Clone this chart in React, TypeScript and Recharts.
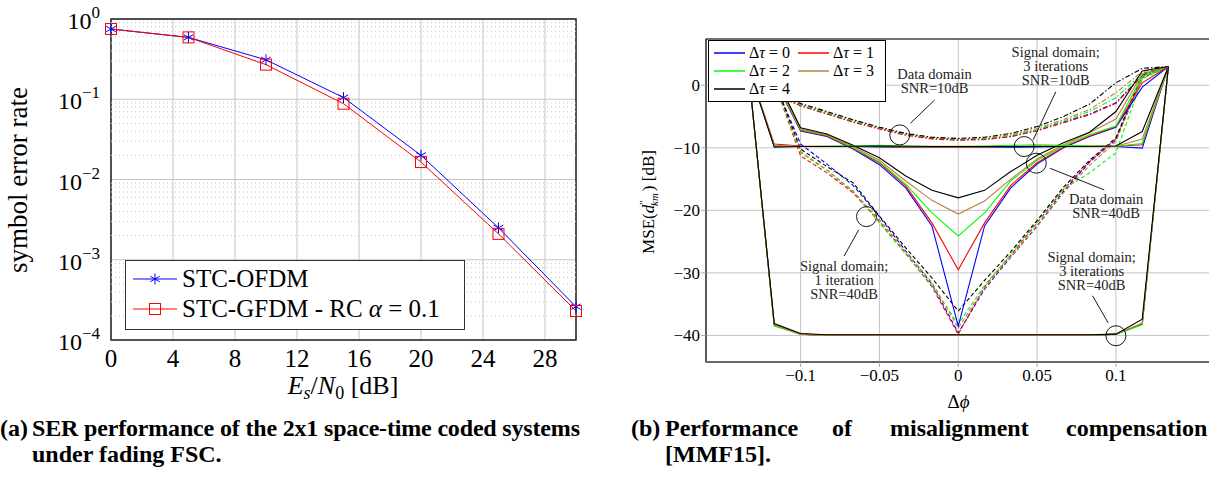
import React from 'react';
import {
  LineChart, Line, XAxis, YAxis, CartesianGrid, ReferenceLine, ReferenceDot, ReferenceArea, Legend,
} from 'recharts';

const SERIF = '"Liberation Serif", "DejaVu Serif", serif';

// ---- (a) SER vs Es/N0 ----
const snrDb = [0, 5, 10, 15, 20, 25, 30];
const serOfdm = [0.75, 0.59, 0.31, 0.105, 0.02, 0.0025, 0.00026];
const serGfdm = [0.75, 0.59, 0.27, 0.088, 0.0165, 0.0021, 0.00023];
const snrTicks = [0, 4, 8, 12, 16, 20, 24, 28];
const serTicks = [1e-4, 1e-3, 1e-2, 1e-1, 1];
const serExponents = ['−4', '−3', '−2', '−1', '0'];

// ---- (b) MSE vs phase misalignment ----
const dphi = [-0.1333, -0.1167, -0.1, -0.0833, -0.0667, -0.05, -0.0333, -0.0167, 0,
  0.0167, 0.0333, 0.05, 0.0667, 0.0833, 0.1, 0.1167, 0.1333];
const dphiTicks = [-0.1, -0.05, 0, 0.05, 0.1];
const mseTicks = [-40, -30, -20, -10, 0];
const tauLabels = ['0', '1', '2', '3', '4'];
const tauColors = ['#0000ff', '#ff0000', '#00ff00', '#bf8040', '#000000'];

// data domain, SNR=10dB (dash-dot) — one row per delta tau
const dataDomain10 = [
  [3, -1.5, -3.2, -4.5, -5.8, -6.9, -7.9, -8.5, -8.7, -8.6, -8.2, -7.2, -5.9, -4.6, -2.8, 1.6, 3],
  [3, -1.5, -3.3, -4.6, -5.9, -7.0, -8.0, -8.6, -8.8, -8.7, -8.2, -7.3, -6.0, -4.7, -2.9, 1.5, 3],
  [3, -1.4, -3.1, -4.4, -5.7, -6.8, -7.8, -8.4, -8.6, -8.5, -8.0, -7.1, -5.7, -4.2, -2.0, 1.9, 3],
  [3, -1.3, -3.0, -4.3, -5.6, -6.8, -7.8, -8.4, -8.6, -8.4, -7.9, -6.9, -5.5, -3.9, -1.2, 2.2, 3],
  [3, -1.2, -2.9, -4.2, -5.5, -6.7, -7.7, -8.3, -8.5, -8.3, -7.7, -6.6, -5.0, -3.0, 0.4, 2.7, 3],
];
// signal domain, 1 iteration, SNR=40dB (dashed)
const signal1It40 = [
  [3, 0.5, -9.4, -12.6, -16.0, -21.0, -26.5, -31.8, -39.6, -32.6, -27.5, -22.5, -17.0, -12.3, -8.7, 1.2, 3],
  [3, 0.5, -11.3, -14.0, -17.2, -21.8, -26.9, -32.2, -39.8, -32.2, -27.2, -22.0, -16.7, -12.2, -8.6, 1.4, 3],
  [3, 0.5, -10.8, -13.6, -16.9, -22.0, -27.0, -32.0, -38.2, -32.0, -27.0, -21.8, -16.6, -14.0, -10.8, 1.0, 3],
  [3, 0.5, -10.6, -13.5, -17.0, -21.5, -26.7, -31.5, -38.8, -32.4, -27.4, -22.6, -17.2, -12.8, -9.0, 1.3, 3],
  [3, 0.8, -10.2, -13.0, -15.6, -20.9, -26.0, -30.8, -36.1, -31.2, -26.6, -21.6, -16.3, -12.0, -8.4, 1.8, 3],
];
// data domain, SNR=40dB (solid V)
const dataDomain40 = [
  [3, 1.0, -7.3, -8.2, -10.2, -12.7, -16.4, -22.5, -38.5, -22.5, -16.4, -12.6, -10.0, -8.2, -6.7, -0.3, 3],
  [3, 1.0, -7.2, -8.1, -10.1, -12.4, -16.1, -22.0, -29.5, -22.0, -16.0, -12.4, -9.9, -8.1, -6.6, 0.4, 3],
  [3, 1.2, -7.1, -8.0, -10.0, -12.25, -15.8, -20.4, -24.1, -20.4, -15.3, -12.0, -9.7, -7.9, -6.5, 1.4, 3],
  [3, 1.5, -7.0, -7.9, -9.8, -12.0, -15.3, -18.4, -20.6, -18.5, -15.0, -11.8, -9.5, -7.6, -5.4, 1.8, 3],
  [3, 1.8, -6.8, -7.8, -9.6, -11.6, -14.5, -16.8, -18.0, -16.8, -13.8, -11.2, -9.2, -7.5, -4.2, 2.3, 3],
];
// signal domain, 3 iterations, SNR=10dB (solid, flat)
const signal3It10 = [
  [3, -9.8, -9.8, -9.8, -9.8, -9.85, -9.9, -9.9, -9.9, -9.9, -9.9, -9.85, -9.8, -9.8, -9.8, -10.05, 3],
  [3, -9.4, -9.7, -9.75, -9.8, -9.8, -9.85, -9.85, -9.9, -9.85, -9.75, -9.7, -9.7, -9.75, -9.75, -9.5, 3],
  [3, -9.7, -9.8, -9.75, -9.7, -9.6, -9.7, -9.75, -9.75, -9.7, -9.6, -9.5, -9.6, -9.7, -9.75, -9.3, 3],
  [3, -9.6, -9.75, -9.8, -9.8, -9.8, -9.85, -9.85, -9.85, -9.85, -9.8, -9.8, -9.8, -9.8, -9.75, -8.6, 3],
  [3, -9.9, -9.8, -9.8, -9.75, -9.7, -9.75, -9.8, -9.8, -9.8, -9.8, -9.8, -9.8, -9.8, -9.7, -7.4, 3],
];
// signal domain, 3 iterations, SNR=40dB (solid, flat)
const signal3It40 = [
  [3, -38.3, -39.8, -40, -40, -40, -40, -40, -40, -40, -40, -40, -40, -40, -39.8, -38.2, 3],
  [3, -38.3, -39.8, -40, -40, -40, -40, -40, -40, -40, -40, -40, -40, -40, -39.8, -38.2, 3],
  [3, -38.5, -39.8, -40, -40, -40, -40, -40, -40, -40, -40, -40, -40, -40, -39.8, -38.3, 3],
  [3, -38.3, -39.8, -40, -40, -40, -40, -40, -40, -40, -40, -40, -40, -40, -39.8, -38.0, 3],
  [3, -38.1, -39.7, -39.9, -39.9, -39.9, -39.9, -39.9, -39.9, -39.9, -39.9, -39.9, -39.9, -39.9, -39.8, -37.4, 3],
];

const groups = [
  { id: 'dd10', series: dataDomain10, dash: '5 2 1.5 2' },
  { id: 'sd1', series: signal1It40, dash: '4 2.5' },
  { id: 'dd40', series: dataDomain40, dash: undefined },
  { id: 'sd3a', series: signal3It10, dash: undefined },
  { id: 'sd3b', series: signal3It40, dash: undefined },
];

const leftRows = snrDb.map((x, i) => ({ x, ofdm: serOfdm[i], gfdm: serGfdm[i] }));

const rightRows = dphi.map((x, i) => {
  const row: any = { x };
  groups.forEach(g => g.series.forEach((s, c) => { row[`${g.id}_${c}`] = s[i]; }));
  return row;
});

// minor log grid positions (2..9 x 10^k)
const minorLog: number[] = [];
[1e-4, 1e-3, 1e-2, 1e-1].forEach(d => [2, 3, 4, 5, 6, 7, 8, 9].forEach(m => minorLog.push(m * d)));

const notes = [
  { x: -0.015, y: 0.93, lines: ['Data domain', 'SNR=10dB'] },
  { x: 0.0618, y: 4.52, lines: ['Signal domain;', '3 iterations', 'SNR=10dB'] },
  { x: 0.0938, y: -19.04, lines: ['Data domain', 'SNR=40dB'] },
  { x: -0.0724, y: -29.66, lines: ['Signal domain;', '1 iteration', 'SNR=40dB'] },
  { x: 0.0846, y: -28.23, lines: ['Signal domain;', '3 iterations', 'SNR=40dB'] },
];
const circles = [
  { x: -0.0371, y: -7.94 }, { x: 0.0418, y: -9.8 }, { x: 0.0495, y: -12.46 },
  { x: -0.0582, y: -21 }, { x: 0.1, y: -40.05 },
];
const pointers = [
  [{ x: -0.0303, y: -6.07 }, { x: -0.0149, y: -2.33 }],
  [{ x: 0.0475, y: -8.74 }, { x: 0.0619, y: -1.02 }],
  [{ x: 0.0581, y: -13.26 }, { x: 0.0926, y: -16.73 }],
  [{ x: -0.0631, y: -23.1 }, { x: -0.0724, y: -27.3 }],
  [{ x: 0.0852, y: -33.66 }, { x: 0.0951, y: -38.0 }],
];

const Asterisk = (props: any) => {
  const { cx, cy } = props;
  if (cx == null || cy == null) return null;
  const r = 5.5;
  const dx = r * Math.cos(Math.PI / 6);
  const dy = r * Math.sin(Math.PI / 6);
  return (
    <g stroke="#0000ff" strokeWidth={1}>
      <line x1={cx} y1={cy - r} x2={cx} y2={cy + r} />
      <line x1={cx - dx} y1={cy - dy} x2={cx + dx} y2={cy + dy} />
      <line x1={cx - dx} y1={cy + dy} x2={cx + dx} y2={cy - dy} />
    </g>
  );
};

const Square = (props: any) => {
  const { cx, cy } = props;
  if (cx == null || cy == null) return null;
  return <rect x={cx - 5.5} y={cy - 5.5} width={11} height={11} fill="none" stroke="#ff0000" strokeWidth={1} />;
};

const PowTick = (props: any) => {
  const { x, y, payload } = props;
  const i = serTicks.indexOf(payload.value);
  return (
    <text x={x} y={y + 10} textAnchor="end" fontFamily={SERIF} fontSize={24} fill="#000">
      10<tspan dy={-11} fontSize={17}>{serExponents[i]}</tspan>
    </text>
  );
};

const LeftLegend = () => (
  <div style={{ border: '1.5px solid #333', background: '#fff', width: 340, height: 70, boxSizing: 'border-box' }}>
    <svg width={338} height={67} style={{ display: 'block' }}>
      <line x1={7} y1={18} x2={51} y2={18} stroke="#0000ff" strokeWidth={1} />
      <Asterisk cx={29} cy={18} />
      <text x={56} y={26} fontFamily={SERIF} fontSize={25}>STC-OFDM</text>
      <line x1={7} y1={48} x2={51} y2={48} stroke="#ff0000" strokeWidth={1} />
      <Square cx={29} cy={48} />
      <text x={56} y={56} fontFamily={SERIF} fontSize={25}>
        STC-GFDM - RC <tspan fontStyle="italic">α</tspan> = 0.1
      </text>
    </svg>
  </div>
);

const RightLegend = () => (
  <div style={{ border: '1px solid #000', background: '#fff', width: 178, height: 62, boxSizing: 'border-box' }}>
    <svg width={176} height={60} style={{ display: 'block' }}>
      {tauLabels.map((t, i) => {
        const col = i % 2;
        const row = Math.floor(i / 2);
        const x0 = col === 0 ? 5 : 89;
        const y0 = 12 + row * 18;
        return (
          <g key={t}>
            <line x1={x0} y1={y0} x2={x0 + 31} y2={y0} stroke={tauColors[i]} strokeWidth={1.5} />
            <text x={x0 + 35} y={y0 + 5} fontFamily={SERIF} fontSize={16}>
              Δ<tspan fontStyle="italic">τ</tspan> = {t}
            </text>
          </g>
        );
      })}
    </svg>
  </div>
);

const NoteText = (lines: string[]) => (props: any) => {
  const { cx, cy } = props;
  return (
    <text x={cx} y={cy} textAnchor="middle" fontFamily={SERIF} fontSize={14.5} fill="#222">
      {lines.map((l, i) => (
        <tspan key={i} x={cx} dy={i === 0 ? 0 : 14}>{l}</tspan>
      ))}
    </text>
  );
};

const fmtPhi = (v: number) => (v < 0 ? `−${Math.abs(v)}` : `${v}`);
const fmtMse = (v: number) => (v < 0 ? `−${Math.abs(v)}` : `${v}`);

export default function App() {
  return (
    <div style={{ position: 'relative', width: 1209, height: 488, overflow: 'hidden', background: '#fff' }}>
      <style>{'body{margin:0}'}</style>

      <div style={{ position: 'absolute', left: 0, top: 0 }}>
        <LineChart width={600} height={420} data={leftRows} margin={{ top: 19, right: 24, bottom: 40, left: 11 }}>
          <CartesianGrid stroke="#c4c4c4" strokeWidth={1} />
          {minorLog.map(v => (
            <ReferenceLine key={v} y={v} stroke="#c8c8c8" strokeDasharray="1 3" strokeWidth={1} />
          ))}
          <XAxis dataKey="x" type="number" domain={[0, 30]} ticks={snrTicks} height={40}
            axisLine={false} tickLine={false} tickSize={7} tickMargin={2}
            tick={{ fontFamily: SERIF, fontSize: 25, fill: '#000' }}
            label={{
              content: () => (
                <text x={343} y={394} textAnchor="middle" fontFamily={SERIF} fontSize={26} fill="#000">
                  <tspan fontStyle="italic">E</tspan><tspan fontSize={18} fontStyle="italic" dy={5}>s</tspan>
                  <tspan dy={-5}>/</tspan><tspan fontStyle="italic">N</tspan><tspan fontSize={18} dy={5}>0</tspan>
                  <tspan dy={-5}> [dB]</tspan>
                </text>
              ),
            }} />
          <YAxis type="number" scale="log" domain={[1e-4, 1]} ticks={serTicks} allowDataOverflow width={100}
            axisLine={false} tickLine={false} tickSize={11} tickMargin={0} tick={<PowTick />}
            label={{
              content: () => (
                <text x={27} y={180} transform="rotate(-90 27 180)" textAnchor="middle" fontFamily={SERIF} fontSize={27} fill="#000">
                  symbol error rate
                </text>
              ),
            }} />
          <ReferenceArea x1={0} x2={30} y1={1e-4} y2={1} fill="none" stroke="#222" strokeWidth={1.5} ifOverflow="visible" />
          <Line dataKey="ofdm" stroke="#0000ff" strokeWidth={1} dot={<Asterisk />} isAnimationActive={false} />
          <Line dataKey="gfdm" stroke="#ff0000" strokeWidth={1} dot={<Square />} isAnimationActive={false} />
          <Legend layout="horizontal" verticalAlign="middle" align="center"
            wrapperStyle={{ left: 125, top: 260, width: 340, height: 70 }} content={() => <LeftLegend />} />
        </LineChart>
      </div>

      <div style={{ position: 'absolute', left: 600, top: 0 }}>
        <LineChart width={612} height={420} data={rightRows} margin={{ top: 39, right: 1.5, bottom: 28, left: 6 }}>
          <CartesianGrid stroke="#c4c4c4" strokeWidth={1} />
          <XAxis dataKey="x" type="number" domain={[-0.16, 0.16]} ticks={dphiTicks} height={30}
            axisLine={false} tickLine={{ stroke: '#aaa' }} tickSize={5} tickMargin={2} tickFormatter={fmtPhi}
            tick={{ fontFamily: SERIF, fontSize: 17, fill: '#000' }}
            label={{
              content: () => (
                <text x={358.5} y={408} textAnchor="middle" fontFamily={SERIF} fontSize={19} fill="#000">
                  Δ<tspan fontStyle="italic">ϕ</tspan>
                </text>
              ),
            }} />
          <YAxis type="number" domain={[-44.25, 7.4]} ticks={mseTicks} allowDataOverflow width={100}
            axisLine={false} tickLine={{ stroke: '#aaa' }} tickSize={5} tickMargin={1} tickFormatter={fmtMse}
            tick={{ fontFamily: SERIF, fontSize: 17, fill: '#000' }}
            label={{
              content: () => (
                <text x={54} y={202} transform="rotate(-90 54 202)" textAnchor="middle" fontFamily={SERIF} fontSize={17} fill="#000">
                  <tspan>MSE(</tspan><tspan fontStyle="italic">d</tspan>
                  <tspan fontSize={11} dy={-7}>′′</tspan>
                  <tspan fontSize={11} fontStyle="italic" dy={11} dx={-6}>km</tspan>
                  <tspan dy={-4} dx={2}>) [dB]</tspan>
                </text>
              ),
            }} />
          {groups.map(g => g.series.map((_, c) => (
            <Line key={`${g.id}_${c}`} dataKey={`${g.id}_${c}`} stroke={tauColors[c]} strokeWidth={1.1}
              strokeDasharray={g.dash} dot={false} isAnimationActive={false} />
          )))}
          <ReferenceArea x1={-0.16} x2={0.16} y1={-44.25} y2={7.4} fill="none" stroke="#000" strokeWidth={1.2} ifOverflow="visible" />
          <ReferenceLine y={-44.25} stroke="#666" strokeWidth={2} ifOverflow="visible" />
          {circles.map((p, i) => (
            <ReferenceDot key={`c${i}`} x={p.x} y={p.y} r={10} fill="none" stroke="#000" strokeWidth={0.9} />
          ))}
          {pointers.map((s, i) => (
            <ReferenceLine key={`p${i}`} segment={s} stroke="#000" strokeWidth={0.9} />
          ))}
          {notes.map((n, i) => (
            <ReferenceDot key={`n${i}`} x={n.x} y={n.y} r={0} shape={NoteText(n.lines)} />
          ))}
          <Legend layout="horizontal" verticalAlign="middle" align="center"
            wrapperStyle={{ left: 108, top: 40, width: 178, height: 62 }} content={() => <RightLegend />} />
        </LineChart>
      </div>

      <svg width={1209} height={488} style={{ position: 'absolute', left: 0, top: 0, pointerEvents: 'none' }}>
        <g fontFamily={SERIF} fontWeight="bold" fontSize={24} fill="#000">
          <text x={0} y={436}>(a)</text>
          <text x={32} y={436} textLength={548} lengthAdjust="spacing">SER performance of the 2x1 space-time coded systems</text>
          <text x={32} y={462}>under fading FSC.</text>
          <text x={631} y={436}>(b)</text>
          <text x={665} y={436}>Performance</text>
          <text x={832} y={436}>of</text>
          <text x={890} y={436}>misalignment</text>
          <text x={1066} y={436}>compensation</text>
          <text x={665} y={462}>[MMF15].</text>
        </g>
      </svg>
    </div>
  );
}
